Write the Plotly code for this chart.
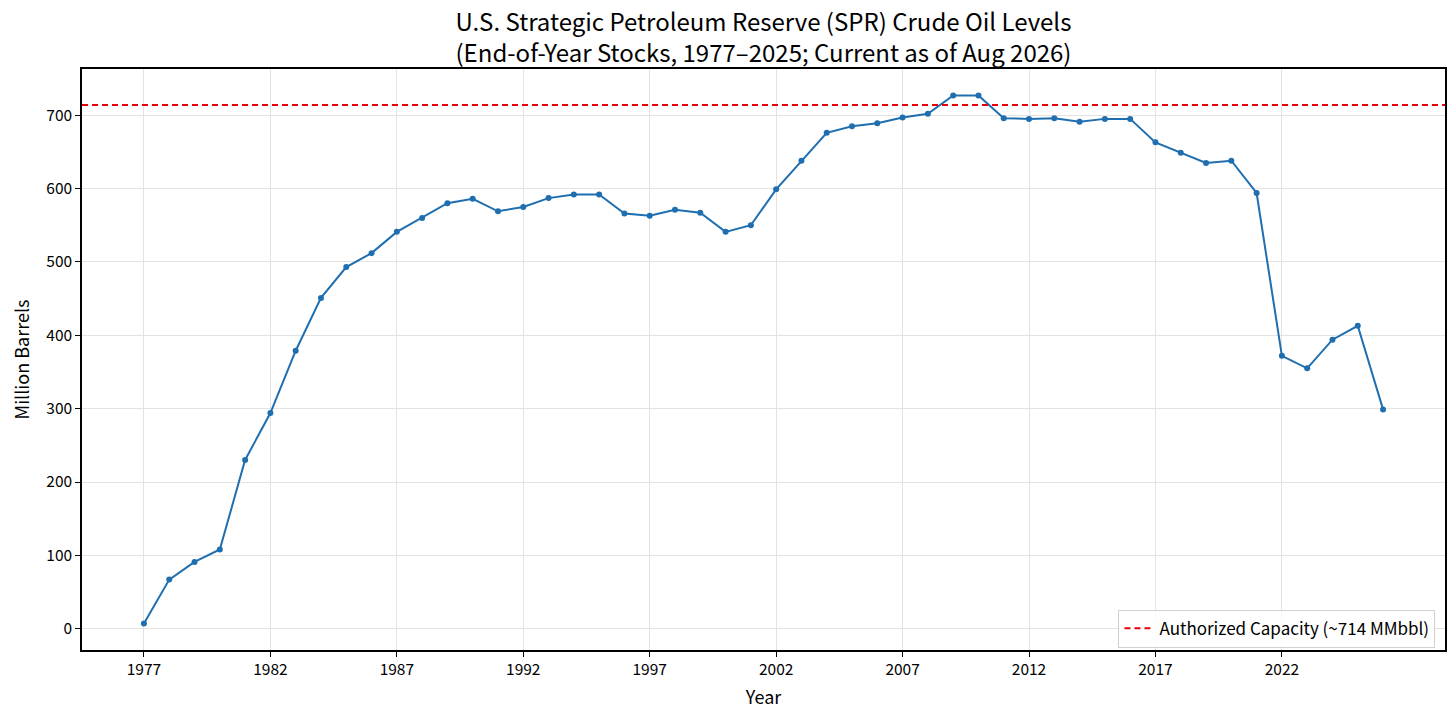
import plotly.graph_objects as go

years = list(range(1977, 2027))
stocks = [7, 67, 91, 108, 230, 294, 379, 451, 493, 512,
          541, 560, 580, 586, 569, 575, 587, 592, 592, 566,
          563, 571, 567, 541, 550, 599, 638, 676, 685, 689,
          697, 702, 727, 727, 696, 695, 696, 691, 695, 695,
          663, 649, 635, 638, 594, 372, 355, 394, 413, 299]
capacity = 714
tick_years = list(range(1977, 2027, 5))
font = "Noto Sans CJK SC"

fig = go.Figure()

fig.add_trace(go.Scatter(x=years, y=stocks, mode="lines+markers",
                         line=dict(color="#1f6fb0", width=2),
                         marker=dict(size=6, color="#1f6fb0"),
                         showlegend=False))

# dashed capacity line spanning the full axis
fig.add_trace(go.Scatter(x=[1974.55, 2028.45], y=[capacity, capacity], mode="lines",
                         line=dict(color="#e8000b", width=2, dash="6px,4px"),
                         name="Authorized Capacity (~714 MMbbl)"))

axis_common = dict(showline=True, linecolor="black", linewidth=1.5, mirror=True,
                   ticks="outside", ticklen=5, tickcolor="black",
                   showgrid=True, gridcolor="#e3e3e3", gridwidth=1,
                   zeroline=False, automargin=False,
                   tickfont=dict(size=15.5, color="black"))

# the page body adds an 8px margin, so the figure is drawn 16px smaller
fig.update_layout(
    width=1440, height=705,
    margin=dict(l=74, r=3, t=61, b=63),
    plot_bgcolor="white", paper_bgcolor="white",
    font=dict(family=font, color="black"),
    title=dict(text="U.S. Strategic Petroleum Reserve (SPR) Crude Oil Levels<br>(End-of-Year Stocks, 1977–2025; Current as of Aug 2026)",
               x=0.5, xanchor="center", xref="paper", y=0.967, yanchor="top", yref="container",
               font=dict(size=24, color="black")),
    xaxis=dict(axis_common, range=[1974.55, 2028.45], tickvals=tick_years,
               title=dict(text="Year", font=dict(size=18), standoff=13)),
    yaxis=dict(axis_common, range=[-29, 763], tickvals=[0, 100, 200, 300, 400, 500, 600, 700],
               title=dict(text="Million Barrels", font=dict(size=18), standoff=14)),
    legend=dict(x=0.993, y=0.004, xanchor="right", yanchor="bottom",
                bgcolor="rgba(255,255,255,0.85)", bordercolor="#d0d0d0", borderwidth=1,
                font=dict(size=17, color="black")),
)

fig.write_html("out.html")
